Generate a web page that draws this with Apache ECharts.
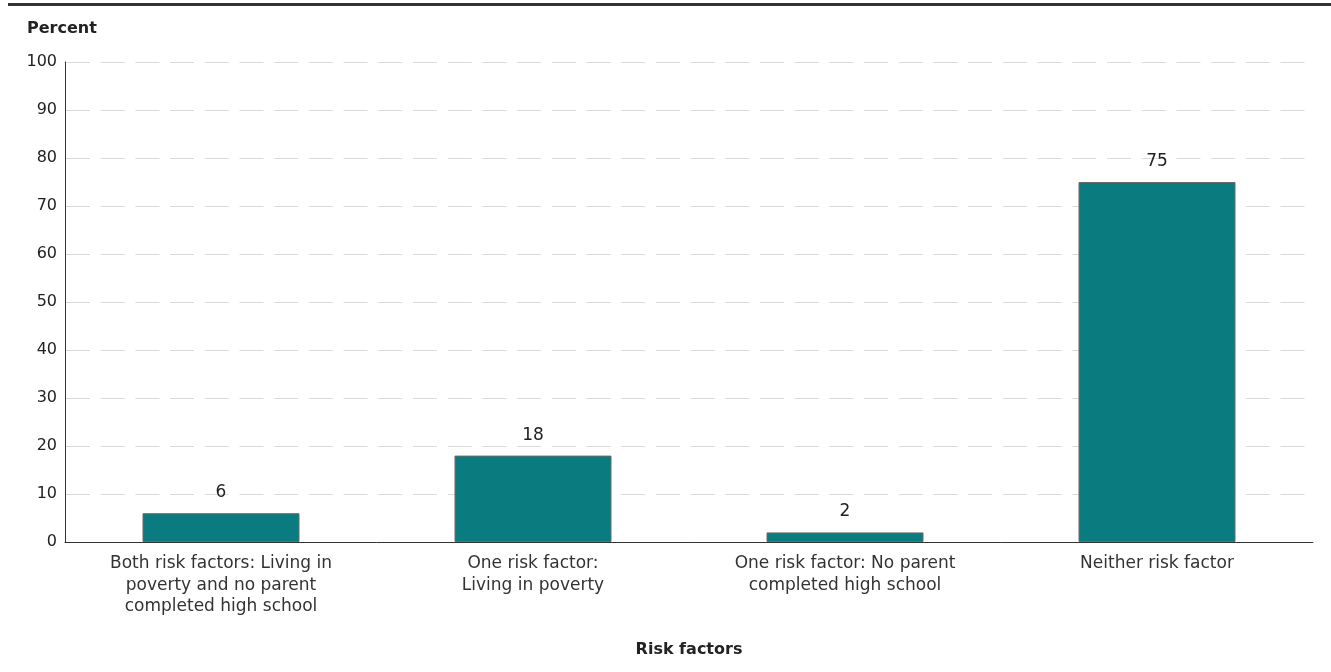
<!DOCTYPE html>
<html>
<head>
<meta charset="utf-8">
<script src="https://cdn.jsdelivr.net/npm/echarts@6/dist/echarts.min.js"></script>
<style>
html,body{margin:0;padding:0;background:#fff;}
#chart{width:1331px;height:672px;}
</style>
</head>
<body>
<div id="chart"></div>
<script>
const categories = [
  'Both risk factors: Living in\npoverty and no parent\ncompleted high school',
  'One risk factor:\nLiving in poverty',
  'One risk factor: No parent\ncompleted high school',
  'Neither risk factor'
];
const values = [6, 18, 2, 75];
const yTicks = [0, 10, 20, 30, 40, 50, 60, 70, 80, 90, 100];
const yAxisTitle = 'Percent';
const xAxisTitle = 'Risk factors';

const FONT = 'DejaVu Sans';
const chart = echarts.init(document.getElementById('chart'), null, {renderer: 'canvas'});
chart.setOption({
  animation: false,
  textStyle: {fontFamily: FONT},
  grid: {left: 65, right: 18, top: 62, bottom: 130, containLabel: false},
  graphic: [
    {type: 'rect', left: 8, top: 3, shape: {width: 1323, height: 3}, style: {fill: '#333'}},
    {type: 'text', left: 27, top: 21, style: {text: yAxisTitle, font: 'bold 16px ' + FONT, fill: '#222'}}
  ],
  xAxis: {
    type: 'category',
    data: categories,
    name: xAxisTitle,
    nameLocation: 'middle',
    nameGap: 100,
    nameTextStyle: {fontWeight: 'bold', fontSize: 16, color: '#222', fontFamily: FONT},
    axisLine: {lineStyle: {color: '#333', width: 1}},
    axisTick: {show: false},
    axisLabel: {fontSize: 17, color: '#333', lineHeight: 21.5, margin: 11, interval: 0, fontFamily: FONT}
  },
  yAxis: {
    type: 'value',
    min: yTicks[0],
    max: yTicks[yTicks.length - 1],
    interval: 10,
    axisLine: {show: true, lineStyle: {color: '#333', width: 1}},
    axisTick: {show: false},
    axisLabel: {fontSize: 16, color: '#222', margin: 8, fontFamily: FONT},
    splitLine: {lineStyle: {color: '#dadada', type: [24, 10.7], width: 1.2, dashOffset: -1}}
  },
  series: [{
    type: 'bar',
    data: values,
    barWidth: 157,
    itemStyle: {color: '#0a7c80', borderColor: '#6b6b6b', borderWidth: 1},
    label: {show: true, position: 'top', distance: 12, fontSize: 17, color: '#222', fontFamily: FONT}
  }]
});
</script>
</body>
</html>
